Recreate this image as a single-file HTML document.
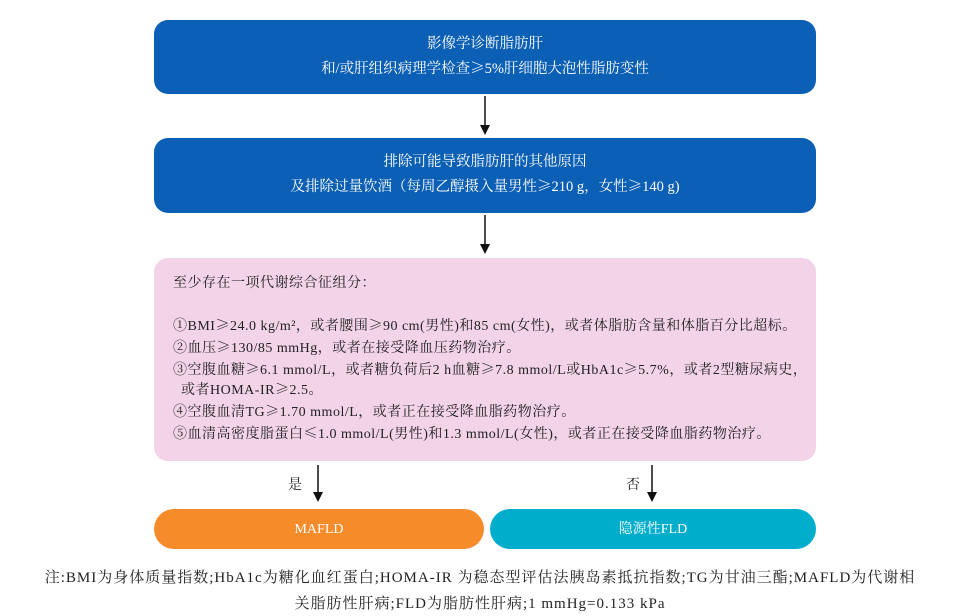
<!DOCTYPE html>
<html><head><meta charset="utf-8"><style>
body{margin:0;width:960px;height:616px;background:#fff;position:relative;overflow:hidden;font-family:"Liberation Serif","Noto Serif CJK SC","Noto Sans CJK SC",serif}
.g{font-family:"Noto Serif CJK SC",serif;line-height:1}
.b{position:absolute;left:154px;width:662px;background:#0b5fb4;color:#fff;border-radius:14px;text-align:center;font-size:14.5px;box-sizing:border-box}
.b p{margin:0;height:25px;line-height:25px;overflow:visible}
.pk{position:absolute;left:154px;top:258px;width:662px;height:203px;background:#f2d3e8;border-radius:14px;font-size:14px;letter-spacing:0.5px;color:#222;box-sizing:border-box;padding:15px 0 0 19px}
.pk p{margin:0;white-space:nowrap;height:22px;line-height:22px}
.pill{position:absolute;top:509px;height:40px;border-radius:20px;color:#fff;text-align:center;line-height:42px;font-size:14px}
.note{position:absolute;left:0;width:960px;text-align:center;font-size:15px;letter-spacing:1px;color:#222;white-space:nowrap}
svg{position:absolute;left:0;top:0}
</style></head><body>
<div class="b" style="top:20px;height:74px;padding-top:12px"><p>影像学诊断脂肪肝</p><p>和/或肝组织病理学检查<span class="g">≥</span>5%肝细胞大泡性脂肪变性</p></div>
<div class="b" style="top:138px;height:75px;padding-top:12px"><p>排除可能导致脂肪肝的其他原因</p><p>及排除过量饮酒（每周乙醇摄入量男性<span class="g">≥</span>210 g，女性<span class="g">≥</span>140 g)</p></div>
<div class="pk">
<p>至少存在一项代谢综合征组分：</p>
<p style="margin-top:21px">①BMI<span class="g">≥</span>24.0 kg/m²，或者腰围<span class="g">≥</span>90 cm(男性)和85 cm(女性)，或者体脂肪含量和体脂百分比超标。</p>
<p>②血压<span class="g">≥</span>130/85 mmHg，或者在接受降血压药物治疗。</p>
<p>③空腹血糖<span class="g">≥</span>6.1 mmol/L，或者糖负荷后2 h血糖<span class="g">≥</span>7.8 mmol/L或HbA1c<span class="g">≥</span>5.7%，或者2型糖尿病史，</p>
<p style="padding-left:8px;height:20px;line-height:18px">或者HOMA-IR<span class="g">≥</span>2.5。</p>
<p>④空腹血清TG<span class="g">≥</span>1.70 mmol/L，或者正在接受降血脂药物治疗。</p>
<p>⑤血清高密度脂蛋白<span class="g">≤</span>1.0 mmol/L(男性)和1.3 mmol/L(女性)，或者正在接受降血脂药物治疗。</p>
</div>
<svg width="960" height="616">
<g stroke="#111" stroke-width="1.5" fill="#111">
<line x1="485" y1="96" x2="485" y2="126"/><polygon points="480,125 490,125 485,135" stroke="none"/>
<line x1="485" y1="215" x2="485" y2="245"/><polygon points="480,244 490,244 485,254" stroke="none"/>
<line x1="318" y1="465" x2="318" y2="493"/><polygon points="313,492 323,492 318,502" stroke="none"/>
<line x1="652" y1="465" x2="652" y2="493"/><polygon points="647,492 657,492 652,502" stroke="none"/>
</g>
<text x="288" y="489" font-size="14" fill="#222" font-family="Noto Serif CJK SC, serif">是</text>
<text x="626" y="489" font-size="14" fill="#222" font-family="Noto Serif CJK SC, serif">否</text>
</svg>
<div class="pill" style="left:154px;width:330px;background:#f68b2a">MAFLD</div>
<div class="pill" style="left:490px;width:326px;background:#00aecb">隐源性FLD</div>
<div class="note" style="top:566px">注:BMI为身体质量指数;HbA1c为糖化血红蛋白;HOMA-IR 为稳态型评估法胰岛素抵抗指数;TG为甘油三酯;MAFLD为代谢相</div>
<div class="note" style="top:592px">关脂肪性肝病;FLD为脂肪性肝病;1 mmHg=0.133 kPa</div>
</body></html>
